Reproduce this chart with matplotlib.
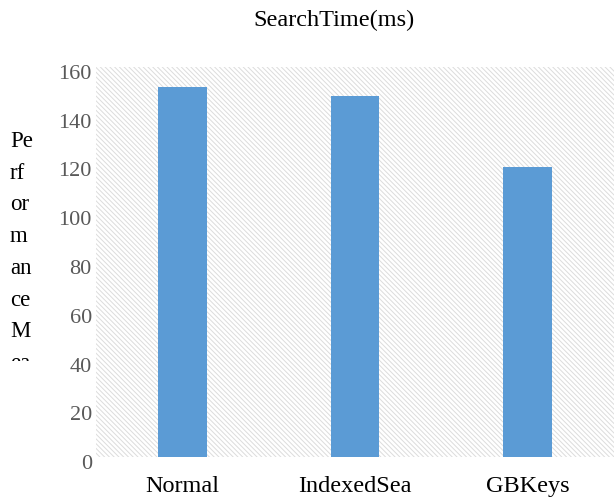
import matplotlib
matplotlib.use('Agg')
import matplotlib.pyplot as plt
from matplotlib.patches import Rectangle
from matplotlib.transforms import Bbox, TransformedBbox, ScaledTranslation

categories = ['Normal', 'IndexedSea', 'GBKeys']
search_ms = [152, 148, 119]
yticks = [0, 20, 40, 60, 80, 100, 120, 140, 160]

BAR = '#5b9bd5'
TICK = '#595959'
HATCH = '#dcdcdc'

plt.rcParams['font.family'] = ['Liberation Serif', 'DejaVu Serif']
plt.rcParams['hatch.color'] = HATCH
plt.rcParams['hatch.linewidth'] = 0.7

fig = plt.figure(figsize=(6.14, 5.0), dpi=100)
ax = fig.add_axes([96 / 614, 1 - 457 / 500, 1 - 96 / 614, (457 - 67) / 500])

# hatched plot area
ax.add_patch(Rectangle((0, 0), 1, 1, transform=ax.transAxes, facecolor='white',
                       edgecolor=HATCH, hatch='\\' * 7, linewidth=0, zorder=0))

x = range(len(categories))
ax.bar(x, search_ms, width=0.28, color=BAR, zorder=2)

ax.set_xlim(-0.5, len(categories) - 0.5)
ax.set_ylim(0, 160)
ax.set_xticks(list(x))
ax.set_xticklabels(categories, fontsize=17.5, color='black')
ax.set_yticks(yticks)
ax.set_yticklabels([str(v) for v in yticks], fontsize=16, color=TICK)
ax.tick_params(axis='x', length=0, pad=14)
ax.tick_params(axis='y', length=0, pad=3)
off = ScaledTranslation(0, -5 / 100, fig.dpi_scale_trans)
for lbl in ax.get_yticklabels():
    lbl.set_transform(lbl.get_transform() + off)
for s in ax.spines.values():
    s.set_visible(False)

fig.text(334 / 614, 1 - 20 / 500, 'SearchTime(ms)', ha='center', va='center', fontsize=17.5)

# wrapped, clipped y label
ylab = fig.text(10 / 614, 1 - 131 / 500, 'Pe\nrf\nor\nm\nan\nce\nM\nea', ha='left', va='top',
                fontsize=16.5, linespacing=1.67)
ylab.set_clip_box(TransformedBbox(Bbox([[0, 1 - 361 / 500], [96 / 614, 1]]), fig.transFigure))
ylab.set_clip_on(True)

fig.savefig('out.png', dpi=100)
